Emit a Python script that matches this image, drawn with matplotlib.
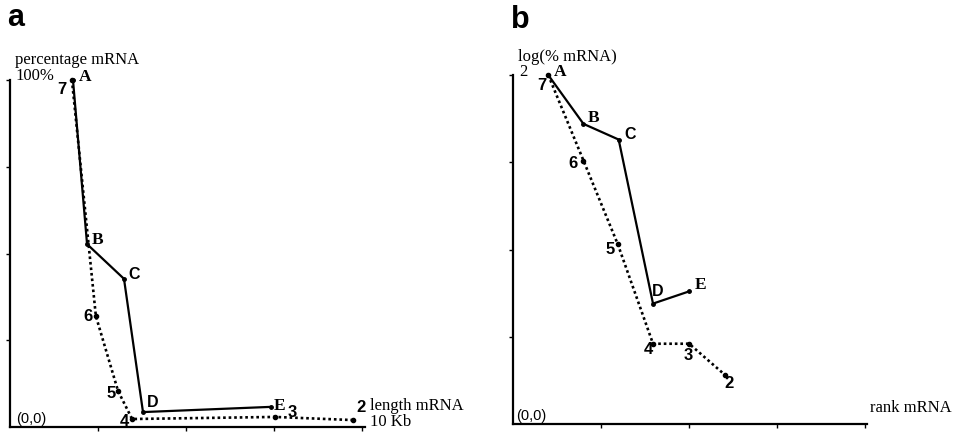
import matplotlib.pyplot as plt

# panel a: percentage mRNA vs length mRNA (Kb)
a_solid_lbl = ['A', 'B', 'C', 'D', 'E']
a_solid_x = [1.79, 2.19, 3.24, 3.78, 7.41]
a_solid_y = [100, 52.7, 42.7, 4.3, 5.8]
a_dot_lbl = ['7', '6', '5', '4', '3', '2']
a_dot_x = [1.76, 2.44, 3.07, 3.47, 7.53, 9.74]
a_dot_y = [100, 32.0, 10.4, 2.3, 2.9, 2.0]

# panel b: log(% mRNA) vs rank mRNA
b_solid_lbl = ['A', 'B', 'C', 'D', 'E']
b_solid_x = [0.40, 0.80, 1.20, 1.59, 2.00]
b_solid_y = [2.0, 1.72, 1.63, 0.69, 0.76]
b_dot_lbl = ['7', '6', '5', '4', '3', '2']
b_dot_x = [0.40, 0.80, 1.19, 1.59, 2.00, 2.41]
b_dot_y = [2.0, 1.51, 1.03, 0.46, 0.46, 0.28]

# label offsets in pixels
a_solid_off = [(12, 3), (10, 4), (10, 4), (10, 10), (9, 1)]
a_dot_off = [(-10, -9), (-8, -1), (-7, -3), (-8, -2), (17, 4), (8, 13)]
b_solid_off = [(12, 3), (10, 6), (11, 5), (5, 12), (11, 6)]
b_dot_off = [(-6, -10), (-10, -3), (-8, -5), (-5, -6), (-1, -12), (4, -8)]

W, H = 964, 432
fig = plt.figure(figsize=(W / 100, H / 100), dpi=100)

serif = 'Liberation Serif'
sans = 'Liberation Sans'


def ftext(px, py, s, **kw):
    fig.text(px / W, 1 - py / H, s, va='center', **kw)


def panel(rect, xlim, ylim, xt, yt, sx, sy, slbl, soff, dx, dy, dlbl, doff):
    ax = fig.add_axes(rect)
    ax.set_xlim(*xlim)
    ax.set_ylim(*ylim)
    for s in ['top', 'right']:
        ax.spines[s].set_visible(False)
    for s in ['left', 'bottom']:
        ax.spines[s].set_linewidth(1.6)
    ax.set_xticks(xt)
    ax.set_yticks(yt)
    ax.set_xticklabels([])
    ax.set_yticklabels([])
    ax.tick_params(length=3, width=1, direction='out')
    ax.plot(sx, sy, color='black', lw=1.6, marker='o', ms=2.5, clip_on=False)
    ax.plot(dx, dy, color='black', lw=1.9, ls=(0, (1, 1.1)), marker='o', ms=3,
            clip_on=False)
    for x, y, t, o in zip(sx, sy, slbl, soff):
        fam = sans if t in 'CD' else serif
        wt = 'bold' if t in 'CD' else 'semibold'
        sz = 11.5 if t in 'CD' else 12.5
        ax.annotate(t, (x, y), xytext=o, textcoords='offset pixels',
                    ha='center', va='center', fontsize=sz, family=fam,
                    fontweight=wt)
    for x, y, t, o in zip(dx, dy, dlbl, doff):
        ax.annotate(t, (x, y), xytext=o, textcoords='offset pixels',
                    ha='center', va='center', fontsize=12, family=sans,
                    fontweight='bold')
    return ax


panel([10 / W, 5 / H, 355 / W, 347 / H], (0, 10.09), (0, 100),
      [2.5, 5, 7.5, 10], [25, 50, 75, 100],
      a_solid_x, a_solid_y, a_solid_lbl, a_solid_off,
      a_dot_x, a_dot_y, a_dot_lbl, a_dot_off)

panel([513 / W, 8 / H, 354 / W, 349 / H], (0, 4.02), (0, 2),
      [1, 2, 3, 4], [0.5, 1, 1.5, 2],
      b_solid_x, b_solid_y, b_solid_lbl, b_solid_off,
      b_dot_x, b_dot_y, b_dot_lbl, b_dot_off)

# panel letters
ftext(7, 18, 'a', fontsize=22, family=sans, fontweight='bold')
ftext(511, 20, 'b', fontsize=22, family=sans, fontweight='bold')

# panel a annotations
ftext(15, 60, 'percentage mRNA', fontsize=12, family=serif)
ftext(15, 76, '100%', fontsize=12, family=serif)
ftext(16, 419, '(0,0)', fontsize=10.5, family=sans)
ftext(370, 406, 'length mRNA', fontsize=12, family=serif)
ftext(370, 422, '10 Kb', fontsize=12, family=serif)

# panel b annotations
ftext(518, 57, 'log(% mRNA)', fontsize=12, family=serif)
ftext(519, 72, '2', fontsize=12, family=serif)
ftext(516, 416, '(0,0)', fontsize=10.5, family=sans)
ftext(870, 408, 'rank mRNA', fontsize=12, family=serif)

fig.savefig('out.png', dpi=100)
